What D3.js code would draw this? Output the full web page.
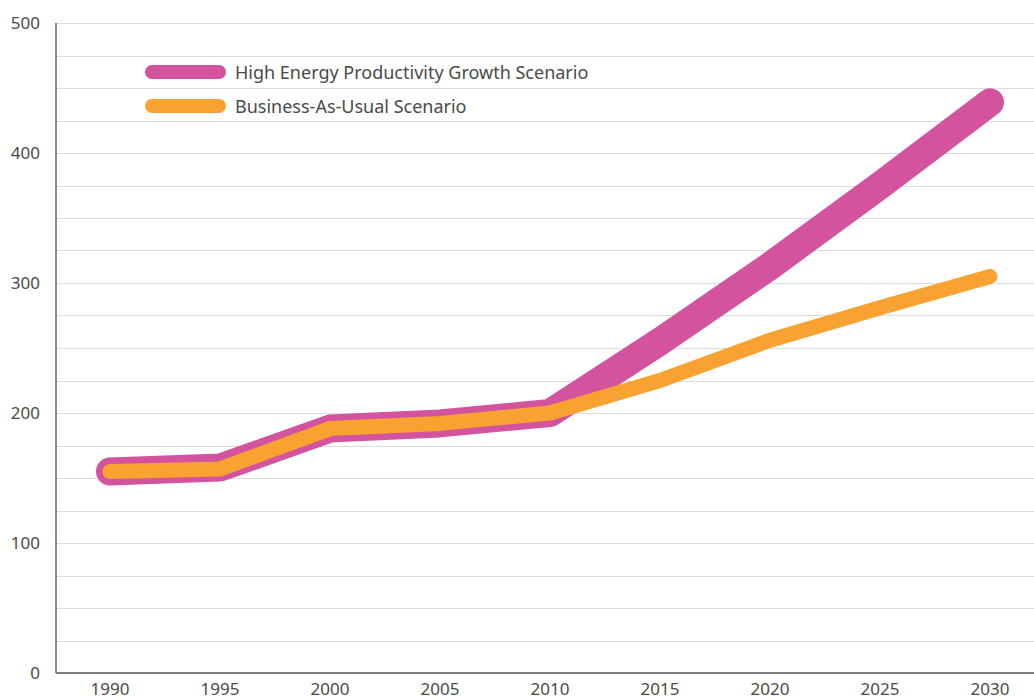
<!DOCTYPE html>
<html>
<head>
<meta charset="utf-8">
<script src="https://cdn.jsdelivr.net/npm/d3@7"></script>
<style>
  body { margin: 0; background: #fff; }
  text { font-family: "Noto Sans", "Open Sans", sans-serif; fill: #4a4a4a; }
</style>
</head>
<body>
<div id="chart"></div>
<script>
// chart size and layout
const WIDTH = 1034;
const HEIGHT = 700;
const MARGIN = { left: 56, top: 23, bottom: 27 };

// data
const years = [1990, 1995, 2000, 2005, 2010, 2015, 2020, 2025, 2030];
const highProductivity = [155, 158, 188, 192, 200, 255, 313, 375, 439];
const businessAsUsual = [155, 157, 188, 192, 200, 225, 256, 281, 305];
const yTicks = [0, 100, 200, 300, 400, 500];
const gridValues = d3.range(25, 501, 25);
const legendLabels = ["High Energy Productivity Growth Scenario", "Business-As-Usual Scenario"];

const PINK = "#d4539e";
const ORANGE = "#f8a331";

const svg = d3.select("#chart").append("svg")
  .attr("width", WIDTH)
  .attr("height", HEIGHT);

const xscale = d3.scalePoint().domain(years).range([110, 990]);
const yscale = d3.scaleLinear().domain([0, 500]).range([HEIGHT - MARGIN.bottom, MARGIN.top]);

// gridlines
svg.append("g")
  .selectAll("line")
  .data(gridValues)
  .enter()
  .append("line")
  .attr("x1", MARGIN.left)
  .attr("x2", WIDTH)
  .attr("y1", (d) => Math.round(yscale(d)) + 0.5)
  .attr("y2", (d) => Math.round(yscale(d)) + 0.5)
  .attr("stroke", "#dcdcdc")
  .attr("stroke-width", 1);

// y axis labels
svg.append("g")
  .selectAll("text")
  .data(yTicks)
  .enter()
  .append("text")
  .attr("x", 40)
  .attr("y", (d) => yscale(d) + 6)
  .attr("text-anchor", "end")
  .style("font-size", "17px")
  .text((d) => d);

// x axis labels (sit right at the bottom edge, as in the original)
svg.append("g")
  .selectAll("text")
  .data(years)
  .enter()
  .append("text")
  .attr("x", (d) => xscale(d))
  .attr("y", 695)
  .attr("text-anchor", "middle")
  .style("font-size", "17px")
  .text((d) => d);

// axis lines
svg.append("line")
  .attr("x1", MARGIN.left).attr("x2", MARGIN.left)
  .attr("y1", MARGIN.top).attr("y2", yscale(0))
  .attr("stroke", "#666").attr("stroke-width", 1.5);
svg.append("line")
  .attr("x1", MARGIN.left).attr("x2", WIDTH)
  .attr("y1", yscale(0)).attr("y2", yscale(0))
  .attr("stroke", "#555").attr("stroke-width", 1.5);

const line = d3.line()
  .x((d, i) => xscale(years[i]))
  .y((d) => yscale(d));

svg.append("path")
  .datum(highProductivity)
  .attr("d", line)
  .attr("fill", "none")
  .attr("stroke", PINK)
  .attr("stroke-width", 28)
  .attr("stroke-linecap", "round")
  .attr("stroke-linejoin", "round");

svg.append("path")
  .datum(businessAsUsual)
  .attr("d", line)
  .attr("fill", "none")
  .attr("stroke", ORANGE)
  .attr("stroke-width", 15)
  .attr("stroke-linecap", "round")
  .attr("stroke-linejoin", "round");

// legend
const legend = svg.append("g");
const legendColors = [PINK, ORANGE];
legendLabels.forEach((label, i) => {
  const y = 72 + i * 34;
  legend.append("line")
    .attr("x1", 152).attr("x2", 219)
    .attr("y1", y).attr("y2", y)
    .attr("stroke", legendColors[i])
    .attr("stroke-width", 14)
    .attr("stroke-linecap", "round");
  legend.append("text")
    .attr("x", 235)
    .attr("y", y + 7)
    .style("font-size", "18px")
    .text(label);
});
</script>
</body>
</html>
